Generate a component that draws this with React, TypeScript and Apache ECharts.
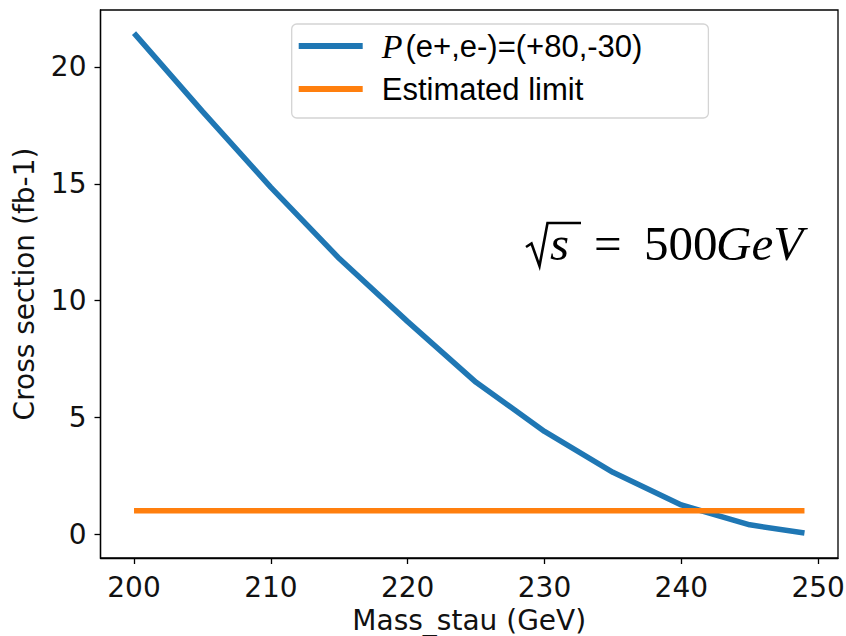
import React, { useEffect, useRef } from "react";
import * as echarts from "echarts";

const massStau = [200, 205, 210, 215, 220, 225, 230, 235, 240, 245, 249];
const crossSection = [21.45, 18.1, 14.85, 11.8, 9.1, 6.5, 4.4, 2.65, 1.25, 0.4, 0.05];
const limitMass = [200, 249];
const limitValue = [1.0, 1.0];
const xTicks = [200, 210, 220, 230, 240, 250];
const yTicks = [0, 5, 10, 15, 20];
const seriesNames = ["P(e+,e-)=(+80,-30)", "Estimated limit"];
const xAxisName = "Mass_stau (GeV)";
const yAxisName = "Cross section (fb-1)";

const AXIS_FONT = "DejaVu Sans";
const SERIF = "Liberation Serif";

export default function App() {
  const ref = useRef<HTMLDivElement>(null);
  useEffect(() => {
    if (!ref.current) return;
    const chart = echarts.init(ref.current, null, { renderer: "svg" });
    const axisCommon = {
      type: "value" as const,
      axisLine: { show: true, onZero: false, lineStyle: { color: "#000", width: 1.3 } },
      splitLine: { show: false },
      nameLocation: "middle" as const,
      nameTextStyle: { fontSize: 28, lineHeight: 30, fontFamily: AXIS_FONT, color: "#111" },
    };
    const mathText = (text: string, x: number, italic: boolean) => ({
      type: "text",
      x,
      y: 243,
      style: {
        text,
        verticalAlign: "middle",
        align: "left",
        fontFamily: SERIF,
        fontStyle: italic ? "italic" : "normal",
        fontSize: 49,
        fill: "#000",
      },
    });
    chart.setOption({
      animation: false,
      backgroundColor: "#fff",
      grid: {
        left: 100.5,
        right: 8,
        top: 10,
        bottom: 78,
        containLabel: false,
        outerBoundsMode: "none",
        show: true,
        borderColor: "#000",
        borderWidth: 1.3,
        backgroundColor: "transparent",
      },
      xAxis: {
        ...axisCommon,
        min: 197.55,
        max: 251.45,
        axisTick: { show: true, length: 6, customValues: xTicks, lineStyle: { color: "#000", width: 1.3 } },
        axisLabel: { customValues: xTicks, fontSize: 28, fontFamily: AXIS_FONT, color: "#111", margin: 15 },
        name: xAxisName,
        nameGap: 46,
      },
      yAxis: {
        ...axisCommon,
        min: -1.02,
        max: 22.44,
        axisTick: { show: true, length: 6, customValues: yTicks, lineStyle: { color: "#000", width: 1.3 } },
        axisLabel: { customValues: yTicks, fontSize: 28, fontFamily: AXIS_FONT, color: "#111", margin: 14 },
        name: yAxisName,
        nameGap: 59,
      },
      legend: {
        orient: "vertical",
        left: 291.7,
        top: 24,
        itemWidth: 64,
        itemHeight: 6,
        itemGap: 9,
        padding: [5, 66, 12, 7],
        backgroundColor: "#fff",
        borderColor: "#d4d4d4",
        borderWidth: 1.3,
        borderRadius: 5,
        selectedMode: false,
        data: [
          { name: seriesNames[0], icon: "rect" },
          { name: seriesNames[1], icon: "rect" },
        ],
        formatter: (name: string) =>
          name === seriesNames[0]
            ? "{i|P}{n|" + name.slice(1) + "}"
            : "{m|" + name + "}",
        textStyle: {
          fontSize: 31,
          fontFamily: "Liberation Sans",
          color: "#000",
          lineHeight: 34,
          rich: {
            i: {
              fontFamily: SERIF,
              fontStyle: "italic",
              fontSize: 34,
              lineHeight: 34,
              color: "#000",
              padding: [0, 3, 0, 14],
            },
            n: { fontFamily: "Liberation Sans", fontSize: 31, lineHeight: 34, color: "#000" },
            m: {
              fontFamily: "Liberation Sans",
              fontSize: 31,
              lineHeight: 34,
              color: "#000",
              padding: [0, 0, 0, 14],
            },
          },
        },
      },
      series: [
        {
          name: seriesNames[0],
          type: "line",
          data: massStau.map((x, i) => [x, crossSection[i]]),
          showSymbol: false,
          symbol: "none",
          itemStyle: { color: "#1f77b4" },
          lineStyle: { color: "#1f77b4", width: 5.5 },
          emphasis: { disabled: true },
          z: 3,
        },
        {
          name: seriesNames[1],
          type: "line",
          data: limitMass.map((x, i) => [x, limitValue[i]]),
          showSymbol: false,
          symbol: "none",
          itemStyle: { color: "#ff7f0e" },
          lineStyle: { color: "#ff7f0e", width: 5.5 },
          emphasis: { disabled: true },
          z: 4,
        },
      ],
      graphic: [
        {
          type: "polyline",
          shape: {
            points: [
              [526, 247],
              [531.5, 243.5],
              [539.5, 266],
              [547.5, 223],
              [581, 223],
            ],
          },
          style: { stroke: "#000", lineWidth: 2.6, fill: null, lineJoin: "miter" },
        },
        mathText("s", 550, true),
        mathText("=", 594, false),
        mathText("500", 644, false),
        mathText("GeV", 716, true),
      ],
    });
    return () => chart.dispose();
  }, []);
  return (
    <div
      ref={ref}
      style={{ position: "absolute", left: 0, top: 0, width: 846, height: 636 }}
    />
  );
}
